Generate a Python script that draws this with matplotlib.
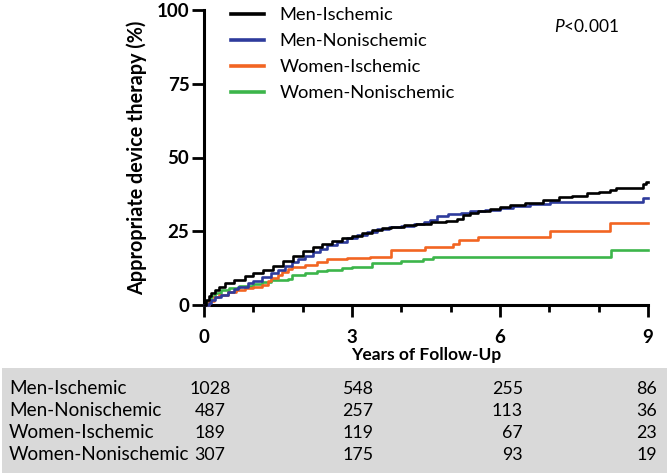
import matplotlib
matplotlib.use("Agg")
import matplotlib.pyplot as plt
from matplotlib.patches import Rectangle
from matplotlib.ticker import FixedLocator

plt.rcParams["font.family"] = ["Lato", "DejaVu Sans"]
plt.rcParams["mathtext.fontset"] = "custom"
plt.rcParams["mathtext.it"] = "Lato:italic"
plt.rcParams["mathtext.rm"] = "Lato"

# step points (years, cumulative %)
t_men_isch = [0, 0.05, 0.1, 0.15, 0.22, 0.3, 0.43, 0.6, 0.83, 1.0, 1.2, 1.4, 1.6, 1.8,
              2.0, 2.2, 2.4, 2.6, 2.8, 3.0, 3.2, 3.4, 3.6, 3.8, 4.05, 4.3, 4.6, 4.9,
              5.12, 5.25, 5.4, 5.55, 5.8, 6.0, 6.2, 6.5, 6.87, 7.2, 7.45, 7.76, 8.0,
              8.23, 8.36, 8.9, 8.96, 9.0]
v_men_isch = [0, 1.6, 2.9, 4.0, 5.1, 6.0, 7.4, 8.6, 10.0, 11.0, 12.0, 13.3, 14.9, 16.6,
              18.3, 19.7, 20.8, 21.8, 22.7, 23.5, 24.5, 25.4, 26.0, 26.6, 27.2, 27.6,
              28.1, 28.6, 29.2, 30.6, 31.3, 32.0, 32.7, 33.3, 34.0, 34.7, 35.5, 36.5,
              37.1, 37.9, 38.4, 38.9, 39.6, 41.0, 41.8, 41.8]

t_men_non = [0, 0.1, 0.15, 0.22, 0.35, 0.49, 0.6, 0.69, 0.89, 1.0, 1.17, 1.35, 1.5, 1.65,
             1.78, 1.9, 2.05, 2.2, 2.35, 2.5, 2.7, 2.9, 3.1, 3.3, 3.5, 3.75, 4.0, 4.25,
             4.45, 4.58, 4.72, 4.95, 5.2, 5.39, 5.7, 6.0, 6.27, 6.6, 7.01, 8.9, 9.0]
v_men_non = [0, 0.8, 1.8, 2.6, 3.5, 4.3, 5.3, 6.2, 7.4, 8.2, 9.6, 10.8, 11.9, 13.2,
             14.7, 15.6, 16.6, 17.8, 19.0, 20.2, 21.5, 22.7, 23.8, 24.8, 25.6, 26.3,
             26.9, 27.5, 28.2, 28.9, 30.3, 30.8, 31.2, 31.7, 32.3, 32.9, 33.4, 34.1,
             34.8, 36.3, 36.3]

t_wom_isch = [0, 0.1, 0.2, 0.3, 0.49, 0.65, 0.83, 1.0, 1.17, 1.3, 1.36, 1.5, 1.58, 1.7,
              1.78, 2.05, 2.3, 2.5, 2.9, 3.37, 3.8, 4.48, 5.05, 5.17, 5.55, 7.01, 8.23, 9.0]
v_wom_isch = [0, 1.5, 2.8, 3.5, 4.5, 5.0, 5.7, 6.2, 6.8, 8.0, 9.2, 10.3, 11.3, 12.2,
              13.0, 13.6, 14.7, 15.6, 16.0, 16.4, 18.5, 19.5, 20.6, 22.1, 23.0, 25.2,
              27.8, 27.8]

t_wom_non = [0, 0.08, 0.15, 0.22, 0.35, 0.5, 0.7, 1.0, 1.17, 1.36, 1.7, 1.78, 2.05, 2.3,
             2.5, 2.8, 3.0, 3.4, 4.0, 4.44, 4.64, 8.26, 9.0]
v_wom_non = [0, 1.5, 3.0, 4.2, 5.0, 5.8, 6.5, 7.2, 7.9, 8.5, 8.7, 10.2, 10.8, 11.4,
             11.9, 12.5, 13.0, 14.2, 15.0, 15.6, 16.2, 18.5, 18.5]

groups = ["Men-Ischemic", "Men-Nonischemic", "Women-Ischemic", "Women-Nonischemic"]
colors = ["#000000", "#2e3b9c", "#f26522", "#3cb54a"]

# numbers at risk at 0, 3, 6, 9 years
at_risk = [
    [1028, 548, 255, 86],
    [487, 257, 113, 36],
    [189, 119, 67, 23],
    [307, 175, 93, 19],
]

W, H = 667, 475
fig = plt.figure(figsize=(W / 100, H / 100), dpi=100)
ax = fig.add_axes([204 / W, 1 - 305 / H, (648 - 204) / W, (305 - 10) / H])

curves = [(t_men_isch, v_men_isch), (t_men_non, v_men_non),
          (t_wom_isch, v_wom_isch), (t_wom_non, v_wom_non)]
# draw from back to front so black ends on top
for i in [3, 2, 1, 0]:
    t, v = curves[i]
    ax.step(t, v, where="post", color=colors[i], lw=1.9, label=groups[i],
            clip_on=False, zorder=3 + (3 - i))

ax.set_xlim(0, 9)
ax.set_ylim(0, 100)
ax.set_xticks([0, 3, 6, 9])
ax.xaxis.set_minor_locator(FixedLocator([1, 2, 4, 5, 7, 8]))
ax.set_yticks([0, 25, 50, 75, 100])
for s in ["top", "right"]:
    ax.spines[s].set_visible(False)
for s in ["left", "bottom"]:
    ax.spines[s].set_linewidth(2.2)
ax.tick_params(axis="both", which="major", length=8.5, width=2.0, labelsize=13.5)
ax.tick_params(axis="x", which="minor", length=5, width=2.0)
ax.tick_params(axis="x", which="major", pad=9)
ax.tick_params(axis="y", which="major", pad=2)
for lab in ax.get_xticklabels() + ax.get_yticklabels():
    lab.set_fontweight("bold")

ax.set_ylabel("Appropriate device therapy (%)", fontsize=14.2, fontweight="bold")
ax.yaxis.set_label_coords((147 - 204) / (648 - 204), (305 - 158) / 295)
ax.set_xlabel("Years of Follow-Up", fontsize=12.5, fontweight="bold")
ax.xaxis.set_label_coords(0.5, -(355 - 305) / 295)
ax.xaxis.label.set_va("center")

handles, labels = ax.get_legend_handles_labels()
leg = ax.legend(handles[::-1], labels[::-1], loc="upper left", frameon=False,
                bbox_to_anchor=((214 - 204) / 444, 1.065), fontsize=13.2,
                handlelength=1.8, handletextpad=0.87, labelspacing=0.54)
for line in leg.get_lines():
    line.set_linewidth(2.6)

ax.text((586 - 204) / 444, (305 - 26) / 295, "$P$<0.001", fontsize=12.5,
        ha="center", va="center", transform=ax.transAxes)

# at-risk table
fig.patches.append(Rectangle((2 / W, 1 - 473 / H), (W - 2) / W, (473 - 368) / H,
                             transform=fig.transFigure, facecolor="#d9d9d9",
                             edgecolor="none", zorder=0))
row_y = [389, 411, 433, 455]
col_x = [210, 358, 523, 657]
col_ha = ["center", "center", "right", "right"]
for r, name in enumerate(groups):
    fig.text(9 / W, 1 - row_y[r] / H, name, fontsize=13.6, ha="left", va="center")
    for c, n in enumerate(at_risk[r]):
        fig.text(col_x[c] / W, 1 - row_y[r] / H, str(n), fontsize=12.8,
                 ha=col_ha[c], va="center")

fig.savefig("out.png", dpi=100)
